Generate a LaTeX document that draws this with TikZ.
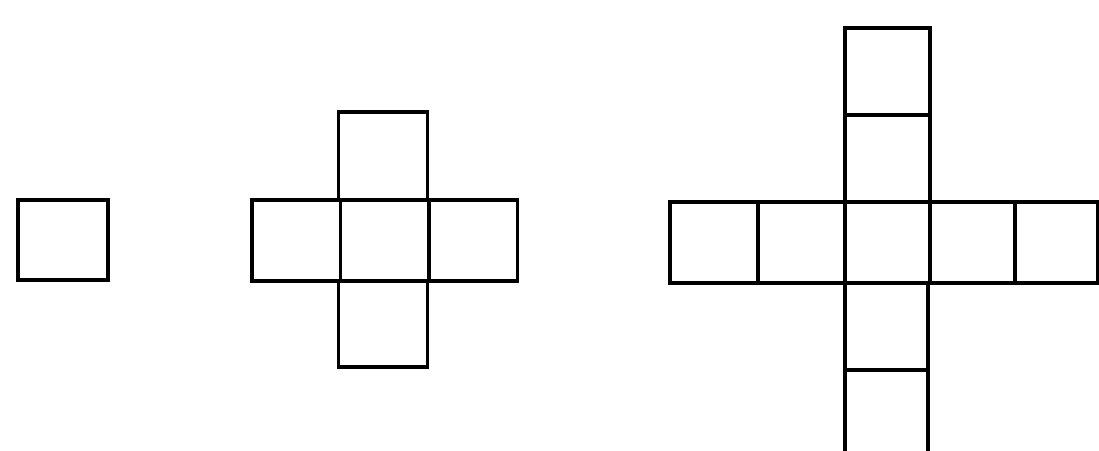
\documentclass[tikz,border=0pt]{standalone}
\begin{document}
\begin{tikzpicture}[x=0.02cm,y=-0.02cm,line width=1.8pt,line join=miter]
	\useasboundingbox (0,0) rectangle (1099,450) ;
	\clip (0,0) rectangle (1099,450) ;
%%% Figur 1: ein Quadrat
	\draw (18,200) rectangle ++(90,80) ;
%%% Figur 2: Kreuz aus 5 Quadraten
	\foreach \i in {0,1,2}{
		\draw (252+88.5*\i,200) rectangle ++(88.5,81) ;
	}
	\draw (338.5,112) rectangle ++(89,88) ;
	\draw (338.5,281) rectangle ++(89,86) ;
%%% Figur 3: Kreuz aus 9 Quadraten, rechts und unten abgeschnitten
	\foreach \x/\w in {670/88,758/87,845/85,930/85,1015/83}{
		\draw (\x,202) rectangle ++(\w,81) ;
	}
	\foreach \j in {28,115}{
		\draw (845,\j) rectangle ++(85,87) ;
	}
	\foreach \j in {283,370}{
		\draw (845,\j) rectangle ++(83,87) ;
	}
	\draw (845,457) -- ++(83,0) ;
\end{tikzpicture}
\end{document}
